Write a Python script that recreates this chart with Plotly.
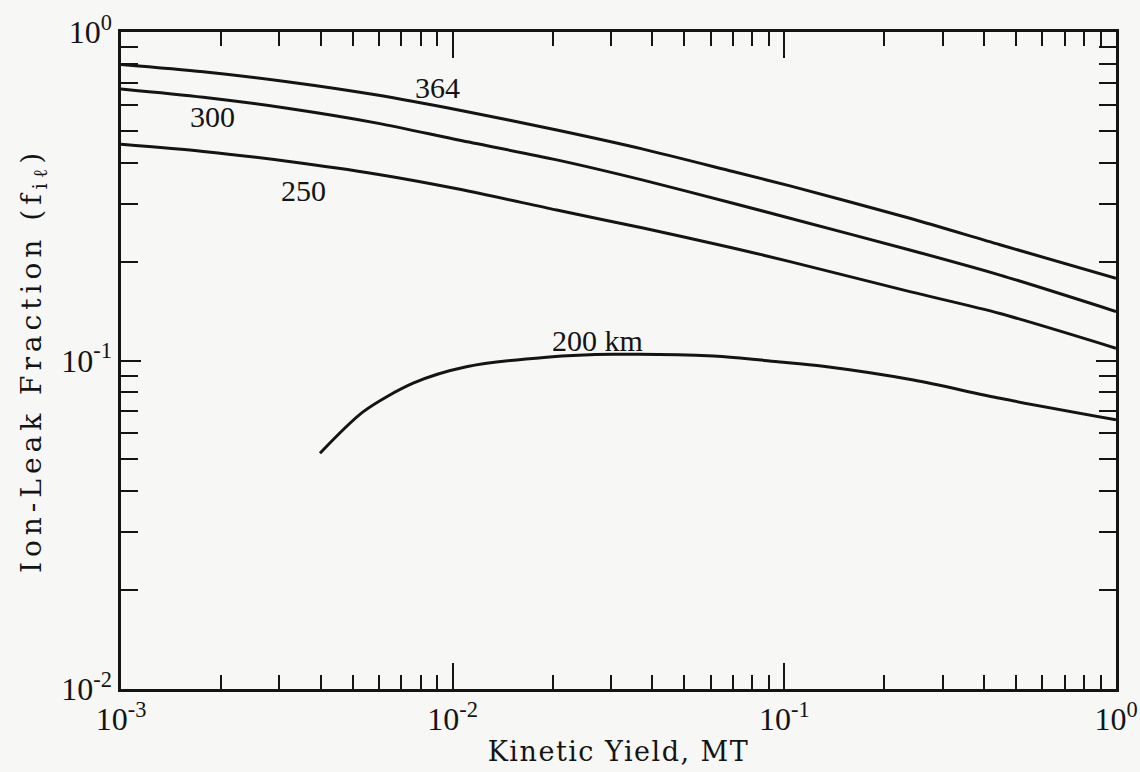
import numpy as np
import plotly.graph_objects as go

# ---- data ----
yield_mt = [0.001, 0.00177, 0.00317, 0.00592, 0.0105, 0.0206, 0.0375, 0.070, 0.104, 0.239, 0.447, 1.0]
f_364 = [0.797, 0.757, 0.706, 0.643, 0.578, 0.503, 0.440, 0.376, 0.340, 0.271, 0.225, 0.178]
f_300 = [0.671, 0.633, 0.586, 0.528, 0.468, 0.408, 0.354, 0.301, 0.271, 0.217, 0.182, 0.141]
f_250 = [0.455, 0.433, 0.404, 0.369, 0.332, 0.287, 0.253, 0.220, 0.200, 0.162, 0.139, 0.109]

yield_200 = [0.00398, 0.00538, 0.0076, 0.0110, 0.0192, 0.0305, 0.0611, 0.097, 0.131, 0.245, 0.447, 1.0]
f_200 = [0.0522, 0.0699, 0.0853, 0.0957, 0.1023, 0.1044, 0.1032, 0.0990, 0.0960, 0.0872, 0.0767, 0.0660]

curve_labels = ["364", "300", "250", "200 km"]
label_x = [0.00898, 0.00189, 0.00354, 0.0274]
label_y = [0.680, 0.555, 0.330, 0.1147]

x_tickvals = [0.001, 0.01, 0.1, 1]
x_ticktext = ["10<sup>-3</sup>", "10<sup>-2</sup>", "10<sup>-1</sup>", "10<sup>0</sup>"]
y_tickvals = [0.01, 0.1, 1]
y_ticktext = ["10<sup>-2</sup>", "10<sup>-1</sup>", "10<sup>0</sup>"]

INK = "#141414"
BG = "#f7f7f5"

fig = go.Figure()
for xs, ys in [(yield_mt, f_364), (yield_mt, f_300), (yield_mt, f_250), (yield_200, f_200)]:
    fig.add_trace(go.Scatter(x=xs, y=ys, mode="lines",
                             line=dict(color=INK, width=3, shape="spline", smoothing=0.8),
                             showlegend=False, hoverinfo="skip"))

for t, lx, ly in zip(curve_labels, label_x, label_y):
    fig.add_annotation(x=np.log10(lx), y=np.log10(ly), xref="x", yref="y", text=t,
                       showarrow=False, font=dict(family="Liberation Serif", size=30, color=INK))

x_minor = [m * 10.0 ** e for e in range(-3, 0) for m in range(2, 10)]
y_minor = [m * 10.0 ** e for e in range(-2, 0) for m in range(2, 10)]

fig.update_xaxes(type="log", range=[-3, 0], tickmode="array", tickvals=x_tickvals, ticktext=x_ticktext,
                 ticks="inside", ticklen=26, tickwidth=2, tickcolor=INK, automargin=False,
                 minor=dict(tickmode="array", tickvals=x_minor, ticks="inside", ticklen=14, tickwidth=2, tickcolor=INK),
                 showline=True, linewidth=2.5, linecolor=INK, mirror="allticks", showgrid=False, zeroline=False,
                 tickfont=dict(family="Liberation Serif", size=32, color=INK),
                 title=dict(text='<span style="letter-spacing:1.5px">Kinetic Yield, MT</span>',
                            font=dict(family="DejaVu Serif", size=27, color=INK), standoff=6))
fig.update_yaxes(type="log", range=[-2, 0], tickmode="array", tickvals=y_tickvals, ticktext=y_ticktext,
                 ticks="inside", ticklen=20, tickwidth=2, tickcolor=INK, automargin=False,
                 minor=dict(tickmode="array", tickvals=y_minor, ticks="inside", ticklen=17, tickwidth=2, tickcolor=INK),
                 showline=True, linewidth=2.5, linecolor=INK, mirror="allticks", showgrid=False, zeroline=False,
                 tickfont=dict(family="Liberation Serif", size=32, color=INK),
                 title=dict(text='<span style="letter-spacing:5px">Ion-Leak Fraction (f<sub>iℓ</sub>)</span>',
                            font=dict(family="DejaVu Serif", size=28, color=INK), standoff=12))

fig.update_layout(width=1140, height=772, margin=dict(l=121, r=24, t=32, b=83),
                  paper_bgcolor=BG, plot_bgcolor=BG, showlegend=False)

fig.write_html("out.html")
